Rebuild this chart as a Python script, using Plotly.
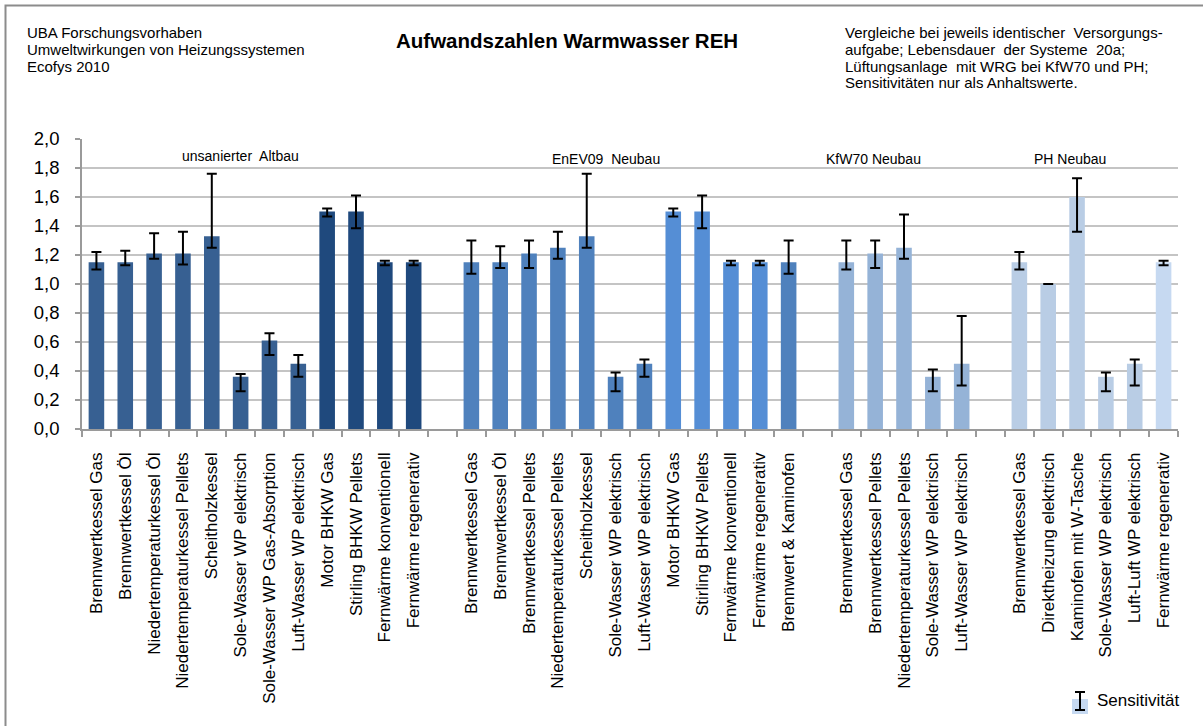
import plotly.graph_objects as go

# ---- data -------------------------------------------------------------
altbau_labels = [
    "Brennwertkessel Gas", "Brennwertkessel Öl", "Niedertemperaturkessel Öl",
    "Niedertemperaturkessel Pellets", "Scheitholzkessel", "Sole-Wasser WP elektrisch",
    "Sole-Wasser WP Gas-Absorption", "Luft-Wasser WP elektrisch", "Motor BHKW Gas",
    "Stirling BHKW Pellets", "Fernwärme konventionell", "Fernwärme regenerativ",
]
altbau_values = [1.15, 1.15, 1.21, 1.21, 1.33, 0.36, 0.61, 0.45, 1.50, 1.50, 1.15, 1.15]
altbau_err_plus = [0.07, 0.08, 0.14, 0.15, 0.43, 0.02, 0.05, 0.06, 0.02, 0.11, 0.01, 0.01]
altbau_err_minus = [0.05, 0.02, 0.035, 0.075, 0.08, 0.10, 0.10, 0.09, 0.035, 0.115, 0.02, 0.02]

enev_labels = [
    "Brennwertkessel Gas", "Brennwertkessel Öl", "Brennwertkessel Pellets",
    "Niedertemperaturkessel Pellets", "Scheitholzkessel", "Sole-Wasser WP elektrisch",
    "Luft-Wasser WP elektrisch", "Motor BHKW Gas", "Stirling BHKW Pellets",
    "Fernwärme konventionell", "Fernwärme regenerativ", "Brennwert & Kaminofen",
]
enev_values = [1.15, 1.15, 1.21, 1.25, 1.33, 0.36, 0.45, 1.50, 1.50, 1.15, 1.15, 1.15]
enev_err_plus = [0.15, 0.11, 0.09, 0.11, 0.43, 0.03, 0.03, 0.02, 0.11, 0.01, 0.01, 0.15]
enev_err_minus = [0.08, 0.04, 0.10, 0.075, 0.08, 0.10, 0.09, 0.035, 0.115, 0.02, 0.02, 0.08]

kfw_labels = [
    "Brennwertkessel Gas", "Brennwertkessel Pellets", "Niedertemperaturkessel Pellets",
    "Sole-Wasser WP elektrisch", "Luft-Wasser WP elektrisch",
]
kfw_values = [1.15, 1.21, 1.25, 0.36, 0.45]
kfw_err_plus = [0.15, 0.09, 0.23, 0.05, 0.33]
kfw_err_minus = [0.05, 0.10, 0.075, 0.10, 0.15]

ph_labels = [
    "Brennwertkessel Gas", "Direktheizung elektrisch", "Kaminofen mit W-Tasche",
    "Sole-Wasser WP elektrisch", "Luft-Luft WP elektrisch", "Fernwärme regenerativ",
]
ph_values = [1.15, 1.00, 1.60, 0.36, 0.45, 1.15]
ph_err_plus = [0.07, 0.0, 0.13, 0.03, 0.03, 0.01]
ph_err_minus = [0.05, 0.0, 0.24, 0.10, 0.15, 0.02]

group_names = ["unsanierter  Altbau", "EnEV09  Neubau", "KfW70 Neubau", "PH Neubau"]

# ---- styles -------------------------------------------------------------
altbau_colors = ["#376092"] * 8 + ["#1F497D"] * 4
enev_colors = ["#4F81BD"] * 7 + ["#558ED5"] * 4 + ["#4F81BD"]
kfw_colors = ["#95B3D7"] * 5
ph_colors = ["#B9CDE5"] * 5 + ["#C6D9F1"]

FONT = "Arial, Liberation Sans, sans-serif"
AXIS_GRAY = "#9A9A9A"

groups = [
    (altbau_labels, altbau_values, altbau_err_plus, altbau_err_minus, altbau_colors),
    (enev_labels, enev_values, enev_err_plus, enev_err_minus, enev_colors),
    (kfw_labels, kfw_values, kfw_err_plus, kfw_err_minus, kfw_colors),
    (ph_labels, ph_values, ph_err_plus, ph_err_minus, ph_colors),
]

# plot area in pixels (used to place the free text around the chart)
W, H = 1203, 726
L, R, T, B = 82, 25, 139, 297
PW, PH_ = W - L - R, H - T - B


def px(xp):
    return (xp - L) / PW


def py(yp):
    return (H - B - yp) / PH_


fig = go.Figure()

tickvals, ticktext = [], []
slot = 0
for labels, values, ep, em, colors in groups:
    xs = list(range(slot, slot + len(labels)))
    fig.add_trace(go.Bar(
        x=xs, y=values, width=0.54,
        marker=dict(color=colors, line=dict(width=0)),
        error_y=dict(type="data", symmetric=False, array=ep, arrayminus=em,
                     color="black", thickness=2, width=5),
        showlegend=False,
    ))
    tickvals += xs
    ticktext += labels
    slot += len(labels) + 1  # one empty slot between building standards

n_slots = slot - 1

fig.update_layout(
    width=W, height=H,
    margin=dict(l=L, r=R, t=T, b=B),
    plot_bgcolor="white", paper_bgcolor="white",
    separators=",.",
    barmode="overlay",
    showlegend=False,
    font=dict(family=FONT, color="black"),
    xaxis=dict(
        range=[-0.5, n_slots - 0.5],
        tickmode="array", tickvals=tickvals, ticktext=ticktext,
        tickangle=-90, ticks="", ticklabelstandoff=15,
        tickfont=dict(size=17, family=FONT, color="black"),
        showgrid=False, zeroline=False,
        showline=True, linecolor=AXIS_GRAY, linewidth=1.5,
        minor=dict(ticks="outside", tick0=0.5, dtick=1, ticklen=6,
                   tickcolor=AXIS_GRAY, tickwidth=1.5, showgrid=False),
    ),
    yaxis=dict(
        range=[0, 2.0], dtick=0.2, tickformat=".1f",
        tickfont=dict(size=18.5, family=FONT, color="black"),
        ticks="outside", ticklen=5, tickcolor=AXIS_GRAY, tickwidth=1.5,
        ticklabelstandoff=12,
        showgrid=True, gridcolor="#C4C4C4", gridwidth=1.5,
        zeroline=False,
        showline=True, linecolor=AXIS_GRAY, linewidth=1.5,
    ),
)

annotations = []


def text(x, y, s, size, anchor="left", bold=False):
    annotations.append(dict(
        x=px(x), y=py(y), xref="paper", yref="paper",
        text=f"<b>{s}</b>" if bold else s, showarrow=False,
        xanchor=anchor, yanchor="middle",
        font=dict(family=FONT, size=size, color="black"),
    ))


# header blocks
for i, line in enumerate(["UBA Forschungsvorhaben",
                          "Umweltwirkungen von Heizungssystemen",
                          "Ecofys 2010"]):
    text(25, 33 + i * 17, line, 15)

text(567, 40, "Aufwandszahlen Warmwasser REH", 20.5, anchor="center", bold=True)

for i, line in enumerate(["Vergleiche bei jeweils identischer  Versorgungs-",
                          "aufgabe; Lebensdauer  der Systeme  20a;",
                          "Lüftungsanlage  mit WRG bei KfW70 und PH;",
                          "Sensitivitäten nur als Anhaltswerte."]):
    text(843, 33 + i * 16.5, line, 15)

# building standard captions
for name, (cx, cy) in zip(group_names, [(240, 156), (606, 159), (873, 159), (1070, 159)]):
    text(cx, cy, name, 14, anchor="center")

# legend entry
text(1095, 700, "Sensitivität", 17)

shapes = [
    # outer frame
    dict(type="rect", xref="paper", yref="paper",
         x0=px(5.5), x1=px(1230), y0=py(5.5), y1=py(760),
         line=dict(color="#8C8C8C", width=2), fillcolor="rgba(0,0,0,0)", layer="above"),
    # legend symbol: bar swatch with an error bar
    dict(type="rect", xref="paper", yref="paper",
         x0=px(1072), x1=px(1088), y0=py(699), y1=py(714),
         line=dict(width=0), fillcolor="#C6D9F1"),
    dict(type="line", xref="paper", yref="paper",
         x0=px(1080), x1=px(1080), y0=py(692), y1=py(710),
         line=dict(color="black", width=2)),
    dict(type="line", xref="paper", yref="paper",
         x0=px(1075), x1=px(1085), y0=py(692), y1=py(692),
         line=dict(color="black", width=2)),
    dict(type="line", xref="paper", yref="paper",
         x0=px(1075), x1=px(1085), y0=py(710), y1=py(710),
         line=dict(color="black", width=2)),
]

fig.update_layout(annotations=annotations, shapes=shapes)

fig.write_html("out.html")
